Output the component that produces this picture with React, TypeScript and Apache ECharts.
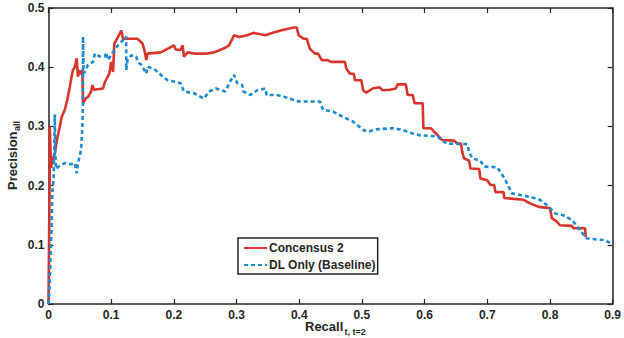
import React, { useEffect, useRef } from "react";
import * as echarts from "echarts";

const seriesNames = ["Concensus 2", "DL Only (Baseline)"];
const xTicks = [0, 0.1, 0.2, 0.3, 0.4, 0.5, 0.6, 0.7, 0.8, 0.9];
const yTicks = [0, 0.1, 0.2, 0.3, 0.4, 0.5];

const concensus: number[][] = [
  [0, 0], [0.001, 0.12], [0.002, 0.22], [0.002, 0.30], [0.003, 0.27], [0.004, 0.23], [0.006, 0.24],
  [0.010, 0.255], [0.014, 0.28], [0.018, 0.30], [0.021, 0.316], [0.026, 0.328], [0.030, 0.345],
  [0.034, 0.367], [0.037, 0.385], [0.039, 0.395], [0.042, 0.40], [0.045, 0.415], [0.046, 0.40],
  [0.047, 0.384], [0.049, 0.395], [0.051, 0.388], [0.054, 0.395], [0.055, 0.339], [0.060, 0.348],
  [0.063, 0.35], [0.068, 0.359], [0.070, 0.37], [0.072, 0.362], [0.087, 0.364], [0.090, 0.375],
  [0.097, 0.389], [0.100, 0.409], [0.103, 0.392], [0.105, 0.44], [0.111, 0.451], [0.116, 0.462],
  [0.119, 0.448], [0.142, 0.448], [0.150, 0.44], [0.153, 0.429], [0.156, 0.412], [0.158, 0.423],
  [0.179, 0.425], [0.195, 0.434], [0.200, 0.437], [0.203, 0.43], [0.211, 0.429], [0.214, 0.437],
  [0.216, 0.418], [0.222, 0.425], [0.232, 0.423], [0.253, 0.423], [0.264, 0.425], [0.280, 0.432],
  [0.288, 0.437], [0.296, 0.454], [0.304, 0.451], [0.317, 0.454], [0.327, 0.458], [0.346, 0.454],
  [0.354, 0.457], [0.370, 0.462], [0.391, 0.467], [0.396, 0.467], [0.399, 0.454], [0.407, 0.448],
  [0.412, 0.448], [0.417, 0.431], [0.425, 0.423], [0.430, 0.423], [0.436, 0.412], [0.445, 0.412],
  [0.451, 0.409], [0.473, 0.409], [0.475, 0.398], [0.481, 0.389], [0.487, 0.389], [0.489, 0.378],
  [0.499, 0.378], [0.502, 0.361], [0.507, 0.357], [0.517, 0.364], [0.528, 0.366], [0.533, 0.361],
  [0.545, 0.362], [0.554, 0.364], [0.557, 0.371], [0.570, 0.371], [0.573, 0.353], [0.581, 0.353],
  [0.584, 0.339], [0.597, 0.339], [0.598, 0.297], [0.610, 0.297], [0.615, 0.291], [0.621, 0.285],
  [0.628, 0.277], [0.647, 0.276], [0.652, 0.271], [0.658, 0.271], [0.660, 0.257], [0.663, 0.246],
  [0.671, 0.242], [0.673, 0.229], [0.687, 0.228], [0.689, 0.212], [0.700, 0.209], [0.705, 0.201],
  [0.711, 0.201], [0.713, 0.189], [0.726, 0.189], [0.727, 0.179], [0.758, 0.176], [0.768, 0.170],
  [0.782, 0.164], [0.800, 0.162], [0.803, 0.145], [0.811, 0.139], [0.816, 0.133], [0.835, 0.132],
  [0.837, 0.128], [0.856, 0.128], [0.857, 0.113],
];

const dlOnly: number[][] = [
  [0, 0], [0.002, 0.035], [0.003, 0.074], [0.005, 0.13], [0.006, 0.187], [0.008, 0.21], [0.009, 0.25],
  [0.010, 0.32], [0.011, 0.25], [0.012, 0.228], [0.016, 0.232], [0.026, 0.238], [0.035, 0.236],
  [0.042, 0.238], [0.045, 0.221], [0.047, 0.238], [0.052, 0.26], [0.054, 0.30], [0.055, 0.34],
  [0.055, 0.452], [0.056, 0.39], [0.058, 0.392], [0.063, 0.404], [0.071, 0.409], [0.074, 0.423],
  [0.082, 0.418], [0.090, 0.418], [0.092, 0.425], [0.095, 0.412], [0.105, 0.429], [0.111, 0.437],
  [0.119, 0.446], [0.124, 0.452], [0.124, 0.395], [0.126, 0.412], [0.132, 0.42], [0.140, 0.418],
  [0.142, 0.409], [0.148, 0.404], [0.156, 0.389], [0.158, 0.401], [0.171, 0.395], [0.179, 0.387],
  [0.190, 0.378], [0.200, 0.376], [0.211, 0.373], [0.216, 0.359], [0.232, 0.356], [0.248, 0.347],
  [0.256, 0.359], [0.267, 0.364], [0.282, 0.359], [0.290, 0.376], [0.296, 0.387], [0.301, 0.373],
  [0.309, 0.370], [0.311, 0.359], [0.322, 0.353], [0.333, 0.361], [0.346, 0.364], [0.348, 0.353],
  [0.364, 0.353], [0.375, 0.350], [0.385, 0.347], [0.399, 0.342], [0.433, 0.342], [0.438, 0.328],
  [0.454, 0.325], [0.470, 0.316], [0.486, 0.308], [0.502, 0.294], [0.510, 0.291], [0.523, 0.295],
  [0.549, 0.297], [0.565, 0.294], [0.581, 0.288], [0.592, 0.285], [0.607, 0.284], [0.621, 0.283],
  [0.626, 0.277], [0.636, 0.271], [0.668, 0.270], [0.671, 0.257], [0.676, 0.246], [0.689, 0.242],
  [0.695, 0.232], [0.716, 0.231], [0.724, 0.218], [0.729, 0.209], [0.734, 0.198], [0.739, 0.187],
  [0.753, 0.184], [0.768, 0.181], [0.784, 0.176], [0.795, 0.167], [0.803, 0.159], [0.808, 0.153],
  [0.821, 0.150], [0.835, 0.142], [0.842, 0.133], [0.850, 0.122], [0.858, 0.111], [0.874, 0.109],
  [0.887, 0.108], [0.898, 0.102],
];

const FONT = "'Liberation Sans', Arial, Helvetica, sans-serif";
const TEXT = "#262626";
const AXIS = "#262626";

export default function App() {
  const ref = useRef<HTMLDivElement>(null);
  useEffect(() => {
    if (!ref.current) return;
    const chart = echarts.init(ref.current, undefined, { renderer: "svg" });
    const xMin = xTicks[0];
    const xMax = xTicks[xTicks.length - 1];
    const yMin = yTicks[0];
    const yMax = yTicks[yTicks.length - 1];
    const axisCommon = {
      type: "value" as const,
      interval: 0.1,
      splitLine: { show: false },
      axisLine: { show: true, onZero: false, lineStyle: { color: AXIS, width: 1.5 } },
      axisTick: { show: true, inside: true, length: 5, lineStyle: { color: AXIS, width: 1.2 } },
    };
    chart.setOption({
      animation: false,
      backgroundColor: "#ffffff",
      grid: { left: 48.5, right: 7.5, top: 8, bottom: 34, containLabel: false },
      xAxis: [
        {
          ...axisCommon,
          min: xMin,
          max: xMax,
          position: "bottom",
          axisLabel: {
            show: true,
            margin: 5,
            fontFamily: FONT,
            fontWeight: "bold",
            fontSize: 12,
            color: TEXT,
            formatter: (v: number) => String(Math.round(v * 10) / 10),
          },
        },
        {
          ...axisCommon,
          min: xMin,
          max: xMax,
          position: "top",
          axisLabel: { show: false },
        },
      ],
      yAxis: [
        {
          ...axisCommon,
          min: yMin,
          max: yMax,
          position: "left",
          axisLabel: {
            show: true,
            margin: 4,
            fontFamily: FONT,
            fontWeight: "bold",
            fontSize: 12,
            color: TEXT,
            formatter: (v: number) => String(Math.round(v * 10) / 10),
          },
        },
        {
          ...axisCommon,
          min: yMin,
          max: yMax,
          position: "right",
          axisLabel: { show: false },
        },
      ],
      legend: {
        orient: "vertical",
        left: 238,
        top: 238,
        padding: [4, 2, 3, 5],
        itemGap: 5,
        itemWidth: 23,
        itemHeight: 12,
        backgroundColor: "#ffffff",
        borderColor: "#222222",
        borderWidth: 1.5,
        borderRadius: 0,
        selectedMode: false,
        data: seriesNames,
        itemStyle: {
          color: "rgba(0,0,0,0)",
          borderColor: "rgba(0,0,0,0)",
          borderWidth: 0,
          opacity: 0,
        },
        textStyle: {
          fontFamily: FONT,
          fontWeight: "bold",
          fontSize: 12,
          color: TEXT,
          padding: [0, 0, 0, -3],
        },
      },
      graphic: [
        {
          type: "text",
          x: 305,
          y: 326,
          style: {
            text: "Recall",
            font: `bold 13px ${FONT}`,
            fill: TEXT,
            textAlign: "left",
            textVerticalAlign: "middle",
            verticalAlign: "middle",
          },
        },
        {
          type: "text",
          x: 344.5,
          y: 332,
          style: {
            text: "t, t=2",
            font: `bold 9px ${FONT}`,
            fill: TEXT,
            textAlign: "left",
            textVerticalAlign: "middle",
            verticalAlign: "middle",
          },
        },
        {
          type: "group",
          x: 12,
          y: 190,
          rotation: Math.PI / 2,
          children: [
            {
              type: "text",
              x: 0,
              y: 0,
              style: {
                text: "Precision",
                font: `bold 13px ${FONT}`,
                fill: TEXT,
                textAlign: "left",
                textVerticalAlign: "middle",
                verticalAlign: "middle",
              },
            },
            {
              type: "text",
              x: 59,
              y: 5,
              style: {
                text: "all",
                font: `bold 9px ${FONT}`,
                fill: TEXT,
                textAlign: "left",
                textVerticalAlign: "middle",
                verticalAlign: "middle",
              },
            },
          ],
        },
      ],
      series: [
        {
          name: seriesNames[0],
          type: "line",
          data: concensus,
          symbol: "none",
          showSymbol: false,
          color: "#d9342b",
          lineStyle: { color: "#d9342b", width: 2.6, type: "solid" },
          z: 3,
        },
        {
          name: seriesNames[1],
          type: "line",
          data: dlOnly,
          symbol: "none",
          showSymbol: false,
          color: "#1b8ad3",
          lineStyle: { color: "#1b8ad3", width: 2.6, type: [4, 3], cap: "butt" },
          z: 4,
        },
      ],
    });
    return () => chart.dispose();
  }, []);
  return (
    <div
      ref={ref}
      style={{ position: "fixed", left: 0, top: 0, width: 624, height: 338, background: "#fff" }}
    />
  );
}
